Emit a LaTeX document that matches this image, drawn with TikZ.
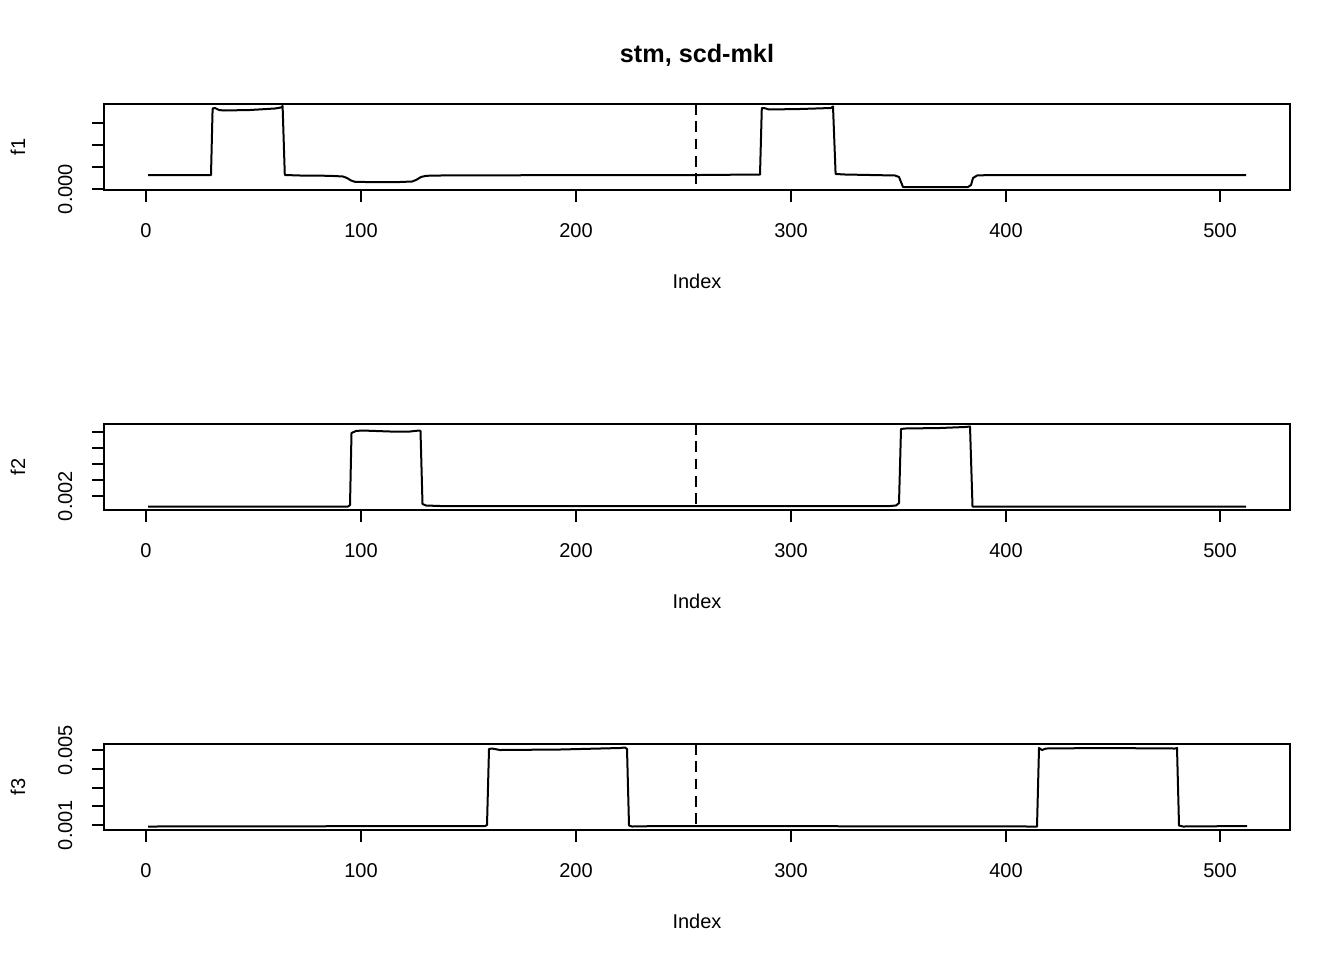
\documentclass[tikz,border=0pt]{standalone}
\usepackage{fontspec}
\setmainfont{Liberation Sans}
\usepackage{tikz}

\begin{document}
\begin{tikzpicture}[x=0.75pt,y=0.75pt,yscale=-1,xscale=1,
        frame/.style={line width=1.5pt},
        tick/.style={line width=1.5pt},
        signal/.style={line width=1.5pt,line join=round},
        split/.style={line width=1.5pt,dash pattern=on 8pt off 5pt},
        lbl/.style={inner sep=0pt,font=\fontsize{15}{18}\selectfont}]
        \useasboundingbox (0,0) rectangle (1344,960);

        % panel f1
        \draw [frame] (104,104) -- (1290,104) -- (1290,190) -- (104,190) -- cycle ;
        \draw [tick] (146,190) -- (1220,190) (146,190) -- (146,202) (361,190) -- (361,202) (576,190) -- (576,202) (791,190) -- (791,202) (1006,190) -- (1006,202) (1220,190) -- (1220,202) ;
        \draw [tick] (104,123) -- (104,189) (104,189) -- (92,189) (104,167) -- (92,167) (104,145) -- (92,145) (104,123) -- (92,123) ;
        \draw [split] (696,104) -- (696,190) ;
        \draw [signal] (148,175) -- (211,175) -- (212.6,108.5) -- (215,108) -- (219,110) -- (224,110.5) -- (250,110) -- (275,108.5) -- (281,107.5) -- (282.6,106) -- (284.8,175) -- (300,175.5) -- (330,175.8) -- (343,176.5) -- (347,178) -- (351,180.5) -- (355,181.8) -- (365,182) -- (400,182) -- (412,181.5) -- (416,180) -- (421,177) -- (426,175.8) -- (440,175.5) -- (600,175) -- (700,175) -- (760,174.5) -- (761.8,108) -- (764,108) -- (769,109.5) -- (800,109) -- (831,108) -- (833,106.5) -- (835.6,174) -- (845,174.5) -- (895,175.5) -- (899,177) -- (901,182) -- (903,187) -- (910,187) -- (968,187) -- (971,185) -- (973,178) -- (977,175.5) -- (990,175) -- (1246,175) ;

        % panel f2
        \draw [frame] (104,424) -- (1290,424) -- (1290,510) -- (104,510) -- cycle ;
        \draw [tick] (146,510) -- (1220,510) (146,510) -- (146,522) (361,510) -- (361,522) (576,510) -- (576,522) (791,510) -- (791,522) (1006,510) -- (1006,522) (1220,510) -- (1220,522) ;
        \draw [tick] (104,432) -- (104,496) (104,496) -- (92,496) (104,480) -- (92,480) (104,464) -- (92,464) (104,448) -- (92,448) (104,432) -- (92,432) ;
        \draw [split] (696,424) -- (696,510) ;
        \draw [signal] (148,506.5) -- (348,506.5) -- (350,505) -- (351.5,433) -- (356,431) -- (362,430.5) -- (390,431.5) -- (410,431.5) -- (419,430.5) -- (420.5,431) -- (422.5,504) -- (426,505.5) -- (440,506) -- (500,506) -- (890,506) -- (896,505.5) -- (899,503) -- (901,429) -- (905,428.5) -- (940,428) -- (965,427) -- (970,426.5) -- (972.5,506.5) -- (1246,506.5) ;

        % panel f3
        \draw [frame] (104,744) -- (1290,744) -- (1290,830) -- (104,830) -- cycle ;
        \draw [tick] (146,830) -- (1220,830) (146,830) -- (146,842) (361,830) -- (361,842) (576,830) -- (576,842) (791,830) -- (791,842) (1006,830) -- (1006,842) (1220,830) -- (1220,842) ;
        \draw [tick] (104,750) -- (104,825) (104,825) -- (92,825) (104,806) -- (92,806) (104,787.5) -- (92,787.5) (104,769) -- (92,769) (104,750) -- (92,750) ;
        \draw [split] (696,744) -- (696,830) ;
        \draw [signal] (148,826.5) -- (485,826) -- (487,825) -- (489,749) -- (492,748.5) -- (500,750) -- (560,749.5) -- (620,748) -- (625,747.5) -- (627,749) -- (629,825.5) -- (632,826.5) -- (660,826) -- (1037,826.5) -- (1039,748) -- (1042,750) -- (1046,748.5) -- (1100,748) -- (1175,748.5) -- (1177,748) -- (1179,825.5) -- (1183,826.5) -- (1247,826) ;

        \draw (697,62) node (title) [anchor=base][inner sep=0pt] {\fontsize{18.9}{22}\selectfont\bfseries stm, scd-mkl};

        \draw (25,147) node (ylabA) [lbl,anchor=base,rotate=90] {f1};
        \draw (72,189) node (ytA) [lbl,anchor=base,rotate=90] {0.000};
        \draw (146,237) node (xtA0) [lbl,anchor=base] {0};
        \draw (361,237) node (xtA1) [lbl,anchor=base] {100};
        \draw (576,237) node (xtA2) [lbl,anchor=base] {200};
        \draw (791,237) node (xtA3) [lbl,anchor=base] {300};
        \draw (1006,237) node (xtA4) [lbl,anchor=base] {400};
        \draw (1220,237) node (xtA5) [lbl,anchor=base] {500};
        \draw (697,288) node (idxA) [lbl,anchor=base] {Index};

        \draw (25,467) node (ylabB) [lbl,anchor=base,rotate=90] {f2};
        \draw (72,496) node (ytB) [lbl,anchor=base,rotate=90] {0.002};
        \draw (146,557) node (xtB0) [lbl,anchor=base] {0};
        \draw (361,557) node (xtB1) [lbl,anchor=base] {100};
        \draw (576,557) node (xtB2) [lbl,anchor=base] {200};
        \draw (791,557) node (xtB3) [lbl,anchor=base] {300};
        \draw (1006,557) node (xtB4) [lbl,anchor=base] {400};
        \draw (1220,557) node (xtB5) [lbl,anchor=base] {500};
        \draw (697,608) node (idxB) [lbl,anchor=base] {Index};

        \draw (25,787) node (ylabC) [lbl,anchor=base,rotate=90] {f3};
        \draw (72,825) node (ytC1) [lbl,anchor=base,rotate=90] {0.001};
        \draw (72,750) node (ytC5) [lbl,anchor=base,rotate=90] {0.005};
        \draw (146,877) node (xtC0) [lbl,anchor=base] {0};
        \draw (361,877) node (xtC1) [lbl,anchor=base] {100};
        \draw (576,877) node (xtC2) [lbl,anchor=base] {200};
        \draw (791,877) node (xtC3) [lbl,anchor=base] {300};
        \draw (1006,877) node (xtC4) [lbl,anchor=base] {400};
        \draw (1220,877) node (xtC5) [lbl,anchor=base] {500};
        \draw (697,928) node (idxC) [lbl,anchor=base] {Index};
    \end{tikzpicture}
\end{document}
